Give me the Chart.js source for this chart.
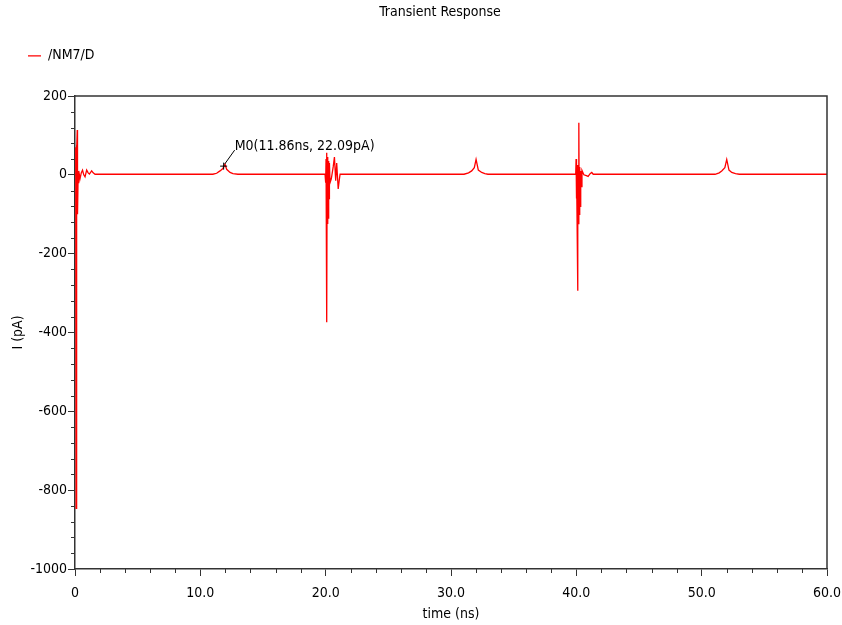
<!DOCTYPE html>
<html>
<head>
<meta charset="utf-8">
<script src="https://cdn.jsdelivr.net/npm/chart.js@4.4.0/dist/chart.umd.min.js"></script>
<style>
  html, body { margin: 0; padding: 0; background: #fff; }
  canvas { display: block; }
</style>
</head>
<body>
<canvas id="tran" width="842" height="625"></canvas>
<script>
// time axis (ns) and drain current of /NM7/D (pA)
var timeNs = [
  0, 0.06, 0.09, 0.11, 0.13, 0.15, 0.18, 0.2, 0.24, 0.3, 0.4, 0.5, 0.6, 0.7, 0.8, 0.93, 1.05, 1.15, 1.33, 1.45, 1.6,
  11.0, 11.3, 11.57, 11.8, 11.97, 12.1, 12.37, 12.6, 13.0,
  19.95, 20.0, 20.03, 20.06, 20.09, 20.1, 20.12, 20.15, 20.18, 20.21, 20.24, 20.27, 20.3, 20.35,
  20.45, 20.6, 20.7, 20.8, 20.88, 21.0, 21.1, 21.15,
  31.04, 31.4, 31.65, 31.86, 32.0, 32.18, 32.45, 32.7, 32.95,
  39.95, 39.98, 40.0, 40.03, 40.06, 40.1, 40.13, 40.16, 40.2, 40.23, 40.27, 40.31, 40.35, 40.4, 40.45,
  40.6, 40.8, 40.94, 41.1, 41.23, 41.35,
  51.07, 51.4, 51.6, 51.85, 52.0, 52.18, 52.4, 52.7, 53.0,
  60.0
];
var currentPA = [
  0, 70, -846, 75, -600, 60, 114, -100, -20, 10, -10, 5, 12, 0, -5, 12, 5, 2, 10, 5, 1.5,
  1.5, 4, 10, 16, 27, 14, 6, 3, 1.5,
  1.5, -20, 40, -130, 56, -374, 45, -125, 40, -110, 35, -60, 30, -20,
  -10, 20, 45, -15, 30, -36, -10, 1.5,
  1.5, 5, 10, 18, 39, 12, 6, 3, 1.5,
  1.5, 40, -60, 20, -120, -294, 25, -124, 132, -100, 20, -80, 10, -30, 11,
  0, -2, -4, 3, 6, 1.5,
  1.5, 5, 10, 18, 39, 12, 6, 3, 1.5,
  1.5
];
var xTicks = [0, 10, 20, 30, 40, 50, 60];
var yTicks = [200, 0, -200, -400, -600, -800, -1000];

var markerTime = 11.86;
var markerValue = 22.09;
var markerLabel = 'M0(11.86ns, 22.09pA)';

var points = [];
for (var i in timeNs) {
  points.push({x: timeNs[i], y: currentPA[i]});
}

var fontFamily = '"DejaVu Sans Condensed", "DejaVu Sans", sans-serif';
Chart.defaults.font.family = fontFamily;
Chart.defaults.font.size = 14;
Chart.defaults.color = '#000';

// top/right frame, minor ticks and the M0 marker
var extras = {
  id: 'extras',
  afterLayout: function(chart) {
    // title sits a little left of the plot centre in the original
    if (chart.titleBlock) chart.titleBlock.right -= 22;
  },
  afterDraw: function(chart) {
    var ctx = chart.ctx;
    var a = chart.chartArea;
    var x = chart.scales.x;
    var y = chart.scales.y;
    ctx.save();
    ctx.strokeStyle = '#333';
    ctx.lineWidth = 1.5;
    ctx.beginPath();
    ctx.moveTo(a.left, a.top);
    ctx.lineTo(a.right, a.top);
    ctx.lineTo(a.right, a.bottom);
    ctx.stroke();

    ctx.lineWidth = 1;
    ctx.beginPath();
    for (var v = 0; v <= 60; v += 2) {
      if (v % 10 === 0) continue;
      var px = Math.round(x.getPixelForValue(v)) + 0.5;
      ctx.moveTo(px, a.bottom);
      ctx.lineTo(px, a.bottom + 4);
    }
    for (var w = -1000; w <= 200; w += 40) {
      if (w % 200 === 0) continue;
      var py = Math.round(y.getPixelForValue(w)) + 0.5;
      ctx.moveTo(a.left, py);
      ctx.lineTo(a.left - 4, py);
    }
    ctx.stroke();

    var mx = x.getPixelForValue(markerTime);
    var my = y.getPixelForValue(markerValue);
    ctx.strokeStyle = '#000';
    ctx.lineWidth = 1;
    ctx.beginPath();
    ctx.moveTo(mx - 3.5, my); ctx.lineTo(mx + 3.5, my);
    ctx.moveTo(mx, my - 3.5); ctx.lineTo(mx, my + 3.5);
    ctx.moveTo(mx + 1, my - 2); ctx.lineTo(mx + 11, my - 16);
    ctx.stroke();
    ctx.fillStyle = '#000';
    ctx.font = '14px ' + fontFamily;
    ctx.textBaseline = 'middle';
    ctx.fillText(markerLabel, mx + 11, my - 20);
    ctx.restore();
  }
};

var ctx = document.getElementById('tran');
var chart = new Chart(ctx, {
  type: 'line',
  data: {
    datasets: [{
      label: '/NM7/D',
      data: points,
      borderColor: 'rgb(255, 0, 0)',
      backgroundColor: 'rgb(255, 0, 0)',
      borderWidth: 1.3,
      pointRadius: 0,
      tension: 0,
      fill: false
    }]
  },
  options: {
    responsive: false,
    animation: false,
    devicePixelRatio: 1,
    parsing: false,
    layout: { padding: { left: 0, right: 15, top: 0, bottom: 0 } },
    plugins: {
      title: {
        display: true,
        text: 'Transient Response',
        fullSize: false,
        font: { size: 14, weight: 'normal' },
        padding: { top: 4, bottom: 0 }
      },
      subtitle: {
        display: true,
        text: ' ',
        weight: 500,
        font: { size: 10 },
        padding: { top: 5.6, bottom: 5.6 }
      },
      legend: {
        display: true,
        align: 'start',
        labels: {
          usePointStyle: true,
          pointStyle: 'line',
          pointStyleWidth: 13,
          padding: 28,
          font: { size: 14 }
        }
      },
      tooltip: { enabled: false }
    },
    scales: {
      x: {
        type: 'linear',
        min: 0,
        max: 60,
        afterBuildTicks: function(scale) {
          scale.ticks = xTicks.map(function(v) { return {value: v}; });
        },
        afterFit: function(scale) {
          scale.height = 56;
          scale.paddingLeft = 0;
          scale.paddingRight = 0;
        },
        ticks: {
          padding: 9,
          maxRotation: 0,
          callback: function(v) { return v === 0 ? '0' : v.toFixed(1); }
        },
        grid: { drawOnChartArea: false, drawTicks: true, tickLength: 7, tickColor: '#333', tickWidth: 1 },
        border: { display: true, color: '#333', width: 1.5 },
        title: { display: true, text: 'time (ns)', padding: { top: 0, bottom: 2.6 } }
      },
      y: {
        type: 'linear',
        min: -1000,
        max: 200,
        afterBuildTicks: function(scale) {
          scale.ticks = yTicks.map(function(v) { return {value: v}; });
        },
        afterFit: function(scale) { scale.width = 75; },
        ticks: {
          padding: 1,
          callback: function(v) { return String(v); }
        },
        grid: { drawOnChartArea: false, drawTicks: true, tickLength: 7, tickColor: '#333', tickWidth: 1 },
        border: { display: true, color: '#333', width: 1.5 },
        title: { display: true, text: 'I (pA)', padding: { top: 9.6, bottom: 0 } }
      }
    }
  },
  plugins: [extras]
});
</script>
</body>
</html>
